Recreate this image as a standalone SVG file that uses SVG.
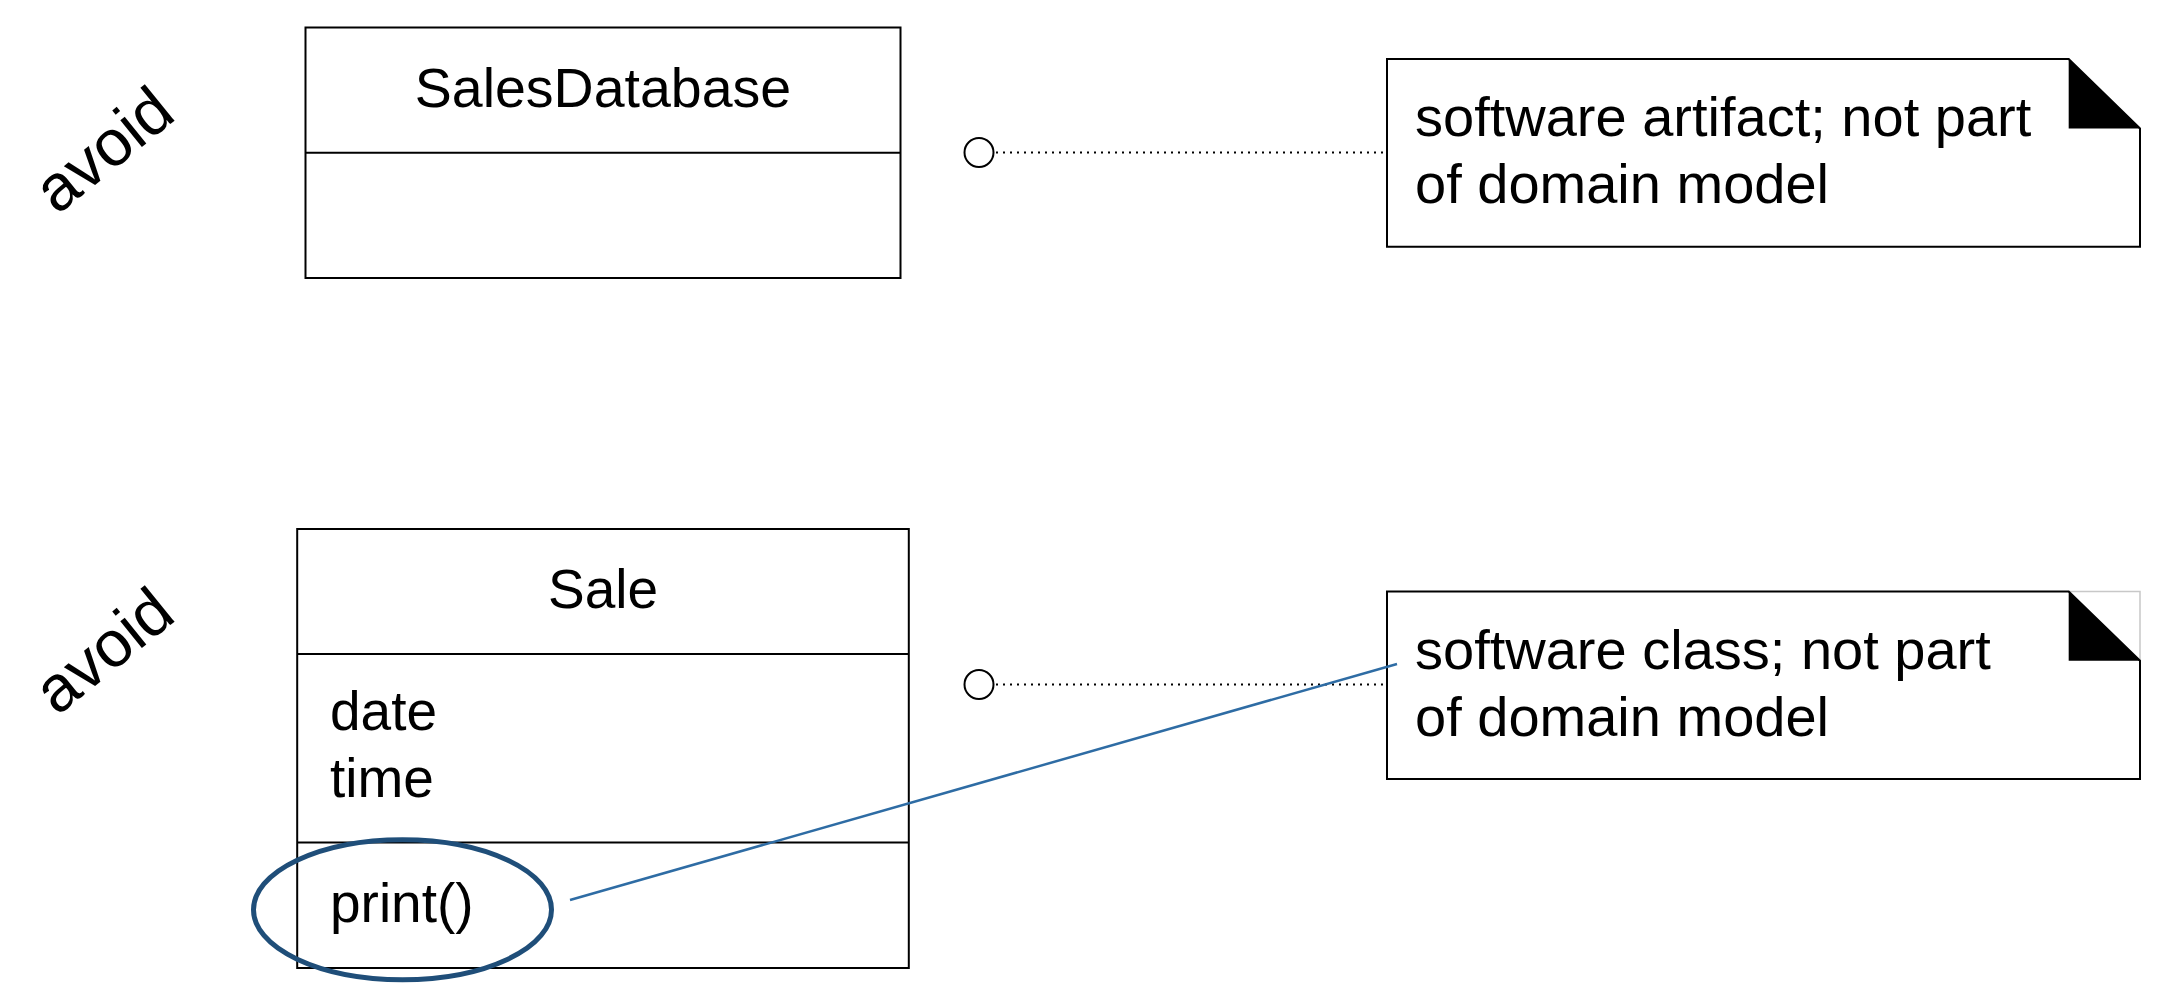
<svg xmlns="http://www.w3.org/2000/svg" width="2157" height="992" viewBox="0 0 2157 992">
<style>
  text { font-family: "Liberation Sans", Arial, sans-serif; font-size: 55px; fill: #000; }
  .note-text { font-size: 56px; }
  .avoid { font-size: 65px; text-anchor: middle; }
  .box { fill: #fff; stroke: #000; stroke-width: 2; }
  .div { stroke: #000; stroke-width: 2; fill: none; }
  .note { fill: #fff; stroke: #000; stroke-width: 2; stroke-linejoin: miter; }
  .fold { fill: #000; stroke: none; }
  .ghost { fill: none; stroke: #c8c8c8; stroke-width: 1.5; }
  .port { fill: #fff; stroke: #000; stroke-width: 2; }
  .dots { stroke: #000; stroke-width: 2; stroke-dasharray: 2 5; fill: none; }
  .mid { text-anchor: middle; }
</style>
<rect width="2157" height="992" fill="#fff"/>

<g id="avoid1">
  <text class="avoid" transform="translate(103,149) rotate(-39)" x="0" y="23">avoid</text>
</g>
<g id="avoid2">
  <text class="avoid" transform="translate(103,650) rotate(-39)" x="0" y="23">avoid</text>
</g>

<g id="SalesDatabase">
  <rect class="box" x="305.5" y="27.5" width="595" height="250.5"/>
  <line class="div" x1="305.5" y1="152.7" x2="900.5" y2="152.7"/>
  <text class="mid" x="603" y="107" style="font-size:55.5px">SalesDatabase</text>
</g>

<g id="Sale">
  <rect class="box" x="297.2" y="529" width="611.6" height="439"/>
  <line class="div" x1="297.2" y1="654" x2="908.8" y2="654"/>
  <line class="div" x1="297.2" y1="842.5" x2="908.8" y2="842.5"/>
  <text class="mid" x="603" y="608">Sale</text>
  <text x="330" y="730">date</text>
  <text x="330" y="797">time</text>
  <text x="330" y="922">print()</text>
</g>

<g id="highlight">
  <ellipse cx="402.5" cy="909.7" rx="149" ry="70" fill="none" stroke="#1f4e79" stroke-width="5"/>
</g>

<g id="note1">
  <polygon class="note" points="1387,59 2068.7,59 2140,128.5 2140,246.7 1387,246.7"/>
  <polygon class="fold" points="2068.7,59 2068.7,128.5 2140,128.5"/>
  <text class="note-text" x="1415" y="136">software artifact; not part</text>
  <text class="note-text" x="1415" y="203">of domain model</text>
</g>

<g id="note2">
  <polyline class="ghost" points="2068.7,591.5 2140,591.5 2140,660.7"/>
  <polygon class="note" points="1387,591.5 2068.7,591.5 2140,660.7 2140,779 1387,779"/>
  <polygon class="fold" points="2068.7,591.5 2068.7,660.7 2140,660.7"/>
  <text class="note-text" x="1415" y="669">software class; not part</text>
  <text class="note-text" x="1415" y="736">of domain model</text>
</g>

<g id="connectors">
  <circle class="port" cx="979" cy="152.5" r="14.5"/>
  <line class="dots" x1="996" y1="152.5" x2="1386" y2="152.5"/>
  <circle class="port" cx="979" cy="684.5" r="14.5"/>
  <line class="dots" x1="996" y1="684.5" x2="1386" y2="684.5"/>
  <line x1="570" y1="900" x2="1397" y2="664" stroke="#2e6ca4" stroke-width="2.5"/>
</g>
</svg>
